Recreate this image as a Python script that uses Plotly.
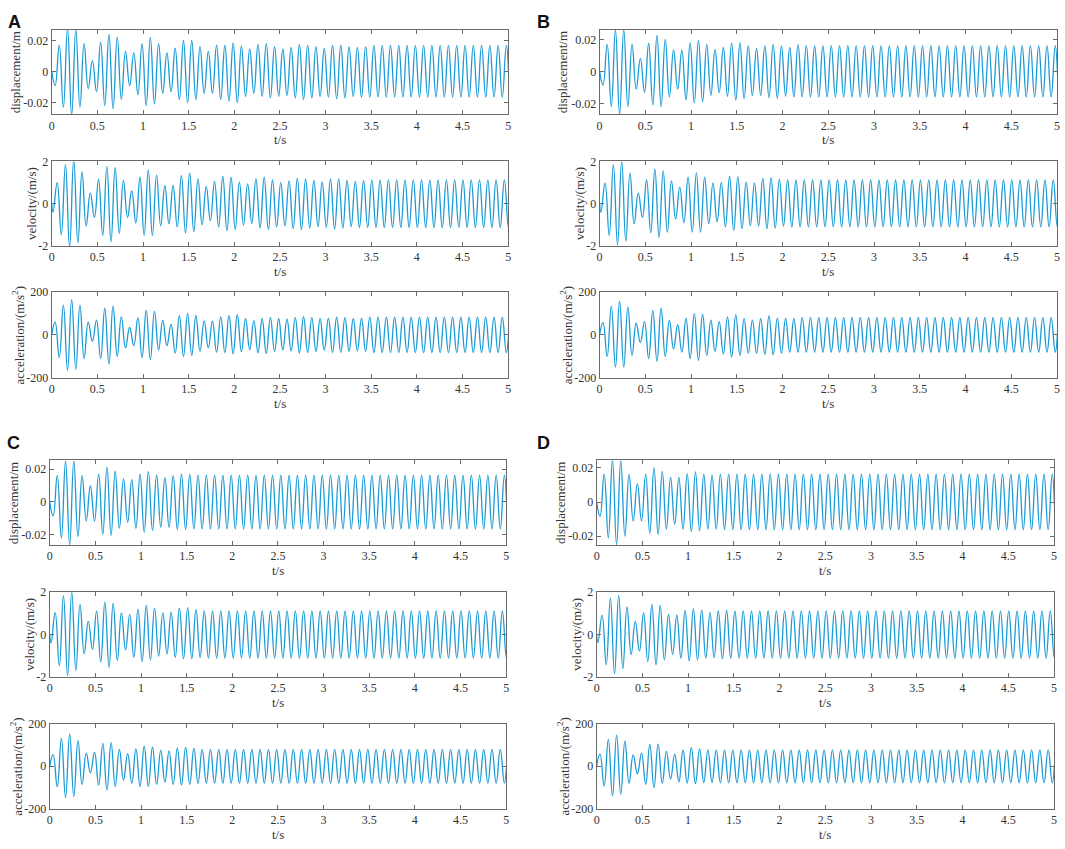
import numpy as np
import plotly.graph_objects as go

# extrema of each record at successive half periods
T0_DISP = 0.037        # first displacement / acceleration extremum (s)
HALF_PERIOD = 0.04536  # spacing between a peak and the next trough (s)
T0_VEL = T0_DISP - HALF_PERIOD / 2
T_END = 5.0

X_TICKS = [0, 0.5, 1, 1.5, 2, 2.5, 3, 3.5, 4, 4.5, 5]
X_TICK_TEXT = ["0", "0.5", "1", "1.5", "2", "2.5", "3", "3.5", "4", "4.5", "5"]
DISP_TICKS = [-0.02, 0, 0.02]
DISP_TICK_TEXT = ["-0.02", "0", "0.02"]
VEL_TICKS = [-2, 0, 2]
VEL_TICK_TEXT = ["-2", "0", "2"]
ACC_TICKS = [-200, 0, 200]
ACC_TICK_TEXT = ["-200", "0", "200"]

# ---- panel A ----
A_DISP_MM = [-9, 17, -23, 28, -28, 27, -23, 18, -11, 7, -13, 19, -22, 24, -24, 22, -18, 13, -9, 12,
             -15, 18, -22, 22, -21, 18, -14, 12, -13, 15, -18, 20, -20, 20, -18, 16, -14, 13, -14, 17,
             -18, 17, -19, 18.5, -20, 16.5, -16, 14.5, -14, 17.5, -16, 18, -17, 16, -16, 14.5, -15.5, 15.5, -17, 17.5,
             -18, 17, -17, 16, -16, 15, -16.5, 17, -17.5, 17, -17, 16, -16, 15.5, -16.5, 16]
A_DISP_STEADY = (16.8, -16.5)
A_VEL = [-0.4, 1.0, -1.45, 1.85, -2.05, 2.1, -1.85, 1.5, -1.05, 0.5, -0.65, 1.15, -1.5, 1.75, -1.8, 1.7, -1.4, 1.1, -0.65, 0.6,
         -0.9, 1.25, -1.5, 1.6, -1.5, 1.35, -1.05, 0.85, -0.95, 0.86, -1.1, 1.33, -1.38, 1.44, -1.33, 1.17, -1.0, 0.81, -0.8, 1.06,
         -1.1, 1.3, -1.28, 1.25, -1.22, 1.02, -1.0, 0.94, -0.94, 1.17, -1.14, 1.25, -1.22, 1.12, -1.1, 1.0, -1.05, 1.08, -1.17, 1.2,
         -1.22, 1.17, -1.15, 1.1, -1.08, 1.03, -1.12, 1.17, -1.2, 1.17, -1.15, 1.1, -1.08, 1.06, -1.12, 1.1]
A_VEL_STEADY = (1.13, -1.12)
A_ACC = [60, -105, 140, -165, 165, -160, 140, -110, 60, -30, 70, -110, 125, -135, 135, -100, 85, -60, 35, -50,
         80, -105, 115, -115, 110, -70, 70, -50, 50, -85, 90, -100, 100, -95, 90, -75, 65, -60, 65, -80,
         85, -82, 90, -88, 95, -78, 76, -69, 67, -83, 76, -86, 81, -76, 76, -69, 74, -74, 81, -83,
         86, -81, 81, -76, 76, -71, 78, -81, 83, -81, 81, -76, 76, -74, 78, -76]
A_ACC_STEADY = (84, -82)

# ---- panel B ----
B_DISP_MM = [-8.5, 17, -22, 26, -27, 26, -22, 17, -11, 8, -13, 17.5, -21, 22.5, -22, 20, -16, 13.5, -11, 13.3,
             -17.7, 18, -19.7, 19.5, -19, 17, -15, 13.8, -13.3, 15, -15.6, 17.8, -18, 18, -17, 16.2, -15, 14.4, -15, 16,
             -16.4, 17, -16.8, 16, -15.4, 15, -16, 16.8]
B_DISP_STEADY = (16.2, -16.0)
B_VEL = [-0.4, 0.97, -1.5, 1.85, -1.95, 2.0, -1.77, 1.46, -0.95, 0.5, -0.65, 1.12, -1.37, 1.63, -1.6, 1.55, -1.34, 1.08, -0.72, 0.78,
         -0.9, 1.25, -1.34, 1.46, -1.34, 1.25, -0.95, 0.97, -0.85, 1.0, -1.1, 1.3, -1.26, 1.28, -1.18, 1.02, -1.03, 0.97, -1.06, 1.2,
         -1.18, 1.23, -1.15, 1.15, -1.06, 1.12]
B_VEL_STEADY = (1.12, -1.1)
B_ACC = [58, -100, 135, -150, 158, -150, 130, -95, 55, -35, 63, -110, 115, -123, 125, -100, 70, -65, 48, -80,
         78, -110, 100, -118, 97, -95, 70, -77, 63, -88, 85, -103, 94, -95, 77, -85, 70, -85, 77, -90,
         89, -92, 78, -85, 78, -80, 77]
B_ACC_STEADY = (81, -80)

# ---- panel C ----
C_DISP_MM = [-8.5, 16, -22, 25, -26, 25, -21, 16, -11.5, 9.7, -11.8, 17, -19.7, 21, -20.3, 18.7, -16, 14, -12.4, 13.6,
             -16, 17, -18.3, 18.5, -17.3, 16.5, -15.4, 14.8, -15.4, 16, -16.8, 17, -16.8, 16.8, -16.4]
C_DISP_STEADY = (16.3, -16.4)
C_VEL = [-0.4, 1.03, -1.48, 1.84, -1.95, 2.0, -1.7, 1.42, -0.9, 0.62, -0.7, 1.1, -1.31, 1.53, -1.55, 1.48, -1.23, 1.02, -0.73, 0.94,
         -1.08, 1.2, -1.28, 1.37, -1.2, 1.25, -1.02, 1.02, -0.92, 1.06, -1.08, 1.25, -1.14, 1.27, -1.14, 1.19, -1.08]
C_VEL_STEADY = (1.12, -1.12)
C_ACC = [55, -97, 132, -148, 153, -143, 121, -86, 62, -31, 67, -88, 108, -112, 112, -95, 80, -65, 60, -80,
         82, -95, 95, -95, 90, -85, 76, -75, 73, -85, 86, -88, 89, -85, 85]
C_ACC_STEADY = (80, -80)

# ---- panel D ----
D_DISP_MM = [-8.3, 16.3, -21, 24.6, -25, 24.4, -20, 16, -11, 10.6, -11, 16.3, -18.3, 20, -19, 18, -16, 14.4, -13, 14.4,
             -16, 16.7, -17.3, 17.7, -16.7, 16.3, -16, 15.8, -16, 16.3]
D_DISP_STEADY = (16.3, -16.2)
D_VEL = [-0.38, 0.92, -1.43, 1.72, -1.86, 1.85, -1.62, 1.31, -0.94, 0.62, -0.78, 1.03, -1.28, 1.42, -1.43, 1.37, -1.2, 0.95, -0.94, 0.91,
         -1.12, 1.14, -1.25, 1.22, -1.2, 1.15, -1.12, 1.03, -1.09, 1.11, -1.15, 1.15]
D_VEL_STEADY = (1.12, -1.12)
D_ACC = [57, -93, 127, -140, 147, -132, 119, -80, 54, -36, 62, -85, 104, -100, 105, -80, 70, -60, 57, -74,
         77, -80, 88, -82, 82, -77, 78, -77, 78]
D_ACC_STEADY = (78, -78)

# displacement axis limits (tight, as in the figure)
DISP_RANGE = {"A": (-0.0275, 0.027), "B": (-0.0268, 0.0262), "C": (-0.0262, 0.0253), "D": (-0.0252, 0.0244)}

W, H = 1065, 849
LINE_COLOR = "#1A9BD7"
AXIS_COLOR = "#6a6a6a"
TEXT_COLOR = "#333"
SERIF = "Liberation Serif, Times New Roman, serif"

# plot boxes in pixels
PANEL_X = {"A": (49, 508), "B": (600, 1060), "C": (47, 506), "D": (597, 1057)}
ROWS_TOP = [(23, 109), (157, 243), (290, 377)]
ROWS_BOTTOM = [(461, 547), (595, 681), (729, 815)]
PANEL_ROWS = {"A": ROWS_TOP, "B": ROWS_TOP, "C": ROWS_BOTTOM, "D": ROWS_BOTTOM}
LETTER_POS = {"A": (3, 3), "B": (535, 3), "C": (2, 431), "D": (535, 431)}
YLABEL_OFFSET = [36.5, 20.5, 33.5]   # label centre, left of the box


def extrema_series(head, steady, t0, scale=1.0):
    # the record keeps a constant amplitude once the transient has died out
    vals = list(head)
    while t0 + HALF_PERIOD * (len(vals) - 1) < T_END + HALF_PERIOD:
        vals.append(steady[0] if vals[-1] < 0 else steady[1])
    t = t0 + HALF_PERIOD * np.arange(len(vals))
    t = np.concatenate([[0.0], t])
    v = np.concatenate([[0.0], np.array(vals) * scale])
    return t, v


panels = {
    "A": [(A_DISP_MM, A_DISP_STEADY, T0_DISP, 1e-3), (A_VEL, A_VEL_STEADY, T0_VEL, 1.0), (A_ACC, A_ACC_STEADY, T0_DISP, 1.0)],
    "B": [(B_DISP_MM, B_DISP_STEADY, T0_DISP, 1e-3), (B_VEL, B_VEL_STEADY, T0_VEL, 1.0), (B_ACC, B_ACC_STEADY, T0_DISP, 1.0)],
    "C": [(C_DISP_MM, C_DISP_STEADY, T0_DISP, 1e-3), (C_VEL, C_VEL_STEADY, T0_VEL, 1.0), (C_ACC, C_ACC_STEADY, T0_DISP, 1.0)],
    "D": [(D_DISP_MM, D_DISP_STEADY, T0_DISP, 1e-3), (D_VEL, D_VEL_STEADY, T0_VEL, 1.0), (D_ACC, D_ACC_STEADY, T0_DISP, 1.0)],
}
ylabels = ["displacement/m", "velocity/(m/s)", "acceleration/(m/s<sup>2</sup>)"]

fig = go.Figure()
layout = {}
annotations = []
n = 0
for name in ["A", "B", "C", "D"]:
    x0, x1 = PANEL_X[name]
    for row, (head, steady, t0, scale) in enumerate(panels[name]):
        n += 1
        suffix = "" if n == 1 else str(n)
        t, v = extrema_series(head, steady, t0, scale)
        fig.add_trace(go.Scatter(
            x=t, y=v, mode="lines",
            line=dict(color=LINE_COLOR, width=1.3, shape="spline", smoothing=1.3),
            xaxis="x" + suffix, yaxis="y" + suffix, showlegend=False,
        ))
        y0, y1 = PANEL_ROWS[name][row]
        common = dict(
            showline=True, linecolor=AXIS_COLOR, linewidth=1, mirror="allticks",
            ticks="inside", ticklen=4, tickcolor=AXIS_COLOR, showgrid=False, zeroline=False,
            tickfont=dict(family=SERIF, size=12, color=TEXT_COLOR),
        )
        layout["xaxis" + suffix] = dict(
            common, domain=[x0 / W, x1 / W], anchor="y" + suffix, range=[0, 5],
            tickvals=X_TICKS, ticktext=X_TICK_TEXT,
        )
        if row == 0:
            yr, yt, ytt = DISP_RANGE[name], DISP_TICKS, DISP_TICK_TEXT
        elif row == 1:
            yr, yt, ytt = (-2, 2), VEL_TICKS, VEL_TICK_TEXT
        else:
            yr, yt, ytt = (-200, 200), ACC_TICKS, ACC_TICK_TEXT
        layout["yaxis" + suffix] = dict(
            common, domain=[1 - y1 / H, 1 - y0 / H], anchor="x" + suffix, range=list(yr),
            tickvals=yt, ticktext=ytt,
        )
        # axis titles
        annotations.append(dict(
            text="t/s", x=(x0 + x1) / 2 / W, y=1 - (y1 + 26) / H, xref="paper", yref="paper",
            xanchor="center", yanchor="middle", showarrow=False,
            font=dict(family=SERIF, size=13, color=TEXT_COLOR),
        ))
        annotations.append(dict(
            text=ylabels[row], x=(x0 - YLABEL_OFFSET[row]) / W, y=1 - (y0 + y1) / 2 / H,
            xref="paper", yref="paper", xanchor="center", yanchor="middle", textangle=-90,
            showarrow=False, font=dict(family=SERIF, size=13, color=TEXT_COLOR),
        ))
    lx, ly = LETTER_POS[name]
    annotations.append(dict(
        text="<b>%s</b>" % name, x=lx / W, y=1 - ly / H, xref="paper", yref="paper",
        xanchor="left", yanchor="top", showarrow=False,
        font=dict(family="Liberation Sans, Arial, sans-serif", size=18, color="#111"),
    ))

fig.update_layout(
    width=W, height=H, margin=dict(l=0, r=0, t=0, b=0),
    paper_bgcolor="white", plot_bgcolor="white",
    annotations=annotations, **layout,
)

# pin the plot to the top-left corner of the page
pin = (
    "var d=document.getElementById('{plot_id}');"
    "d.style.position='fixed';d.style.left='0px';d.style.top='0px';"
    "document.body.style.margin='0';"
    "document.body.style.overflow='hidden';"
    "document.documentElement.style.overflow='hidden';"
)
fig.write_html("out.html", config={"displayModeBar": False}, post_script=pin)
